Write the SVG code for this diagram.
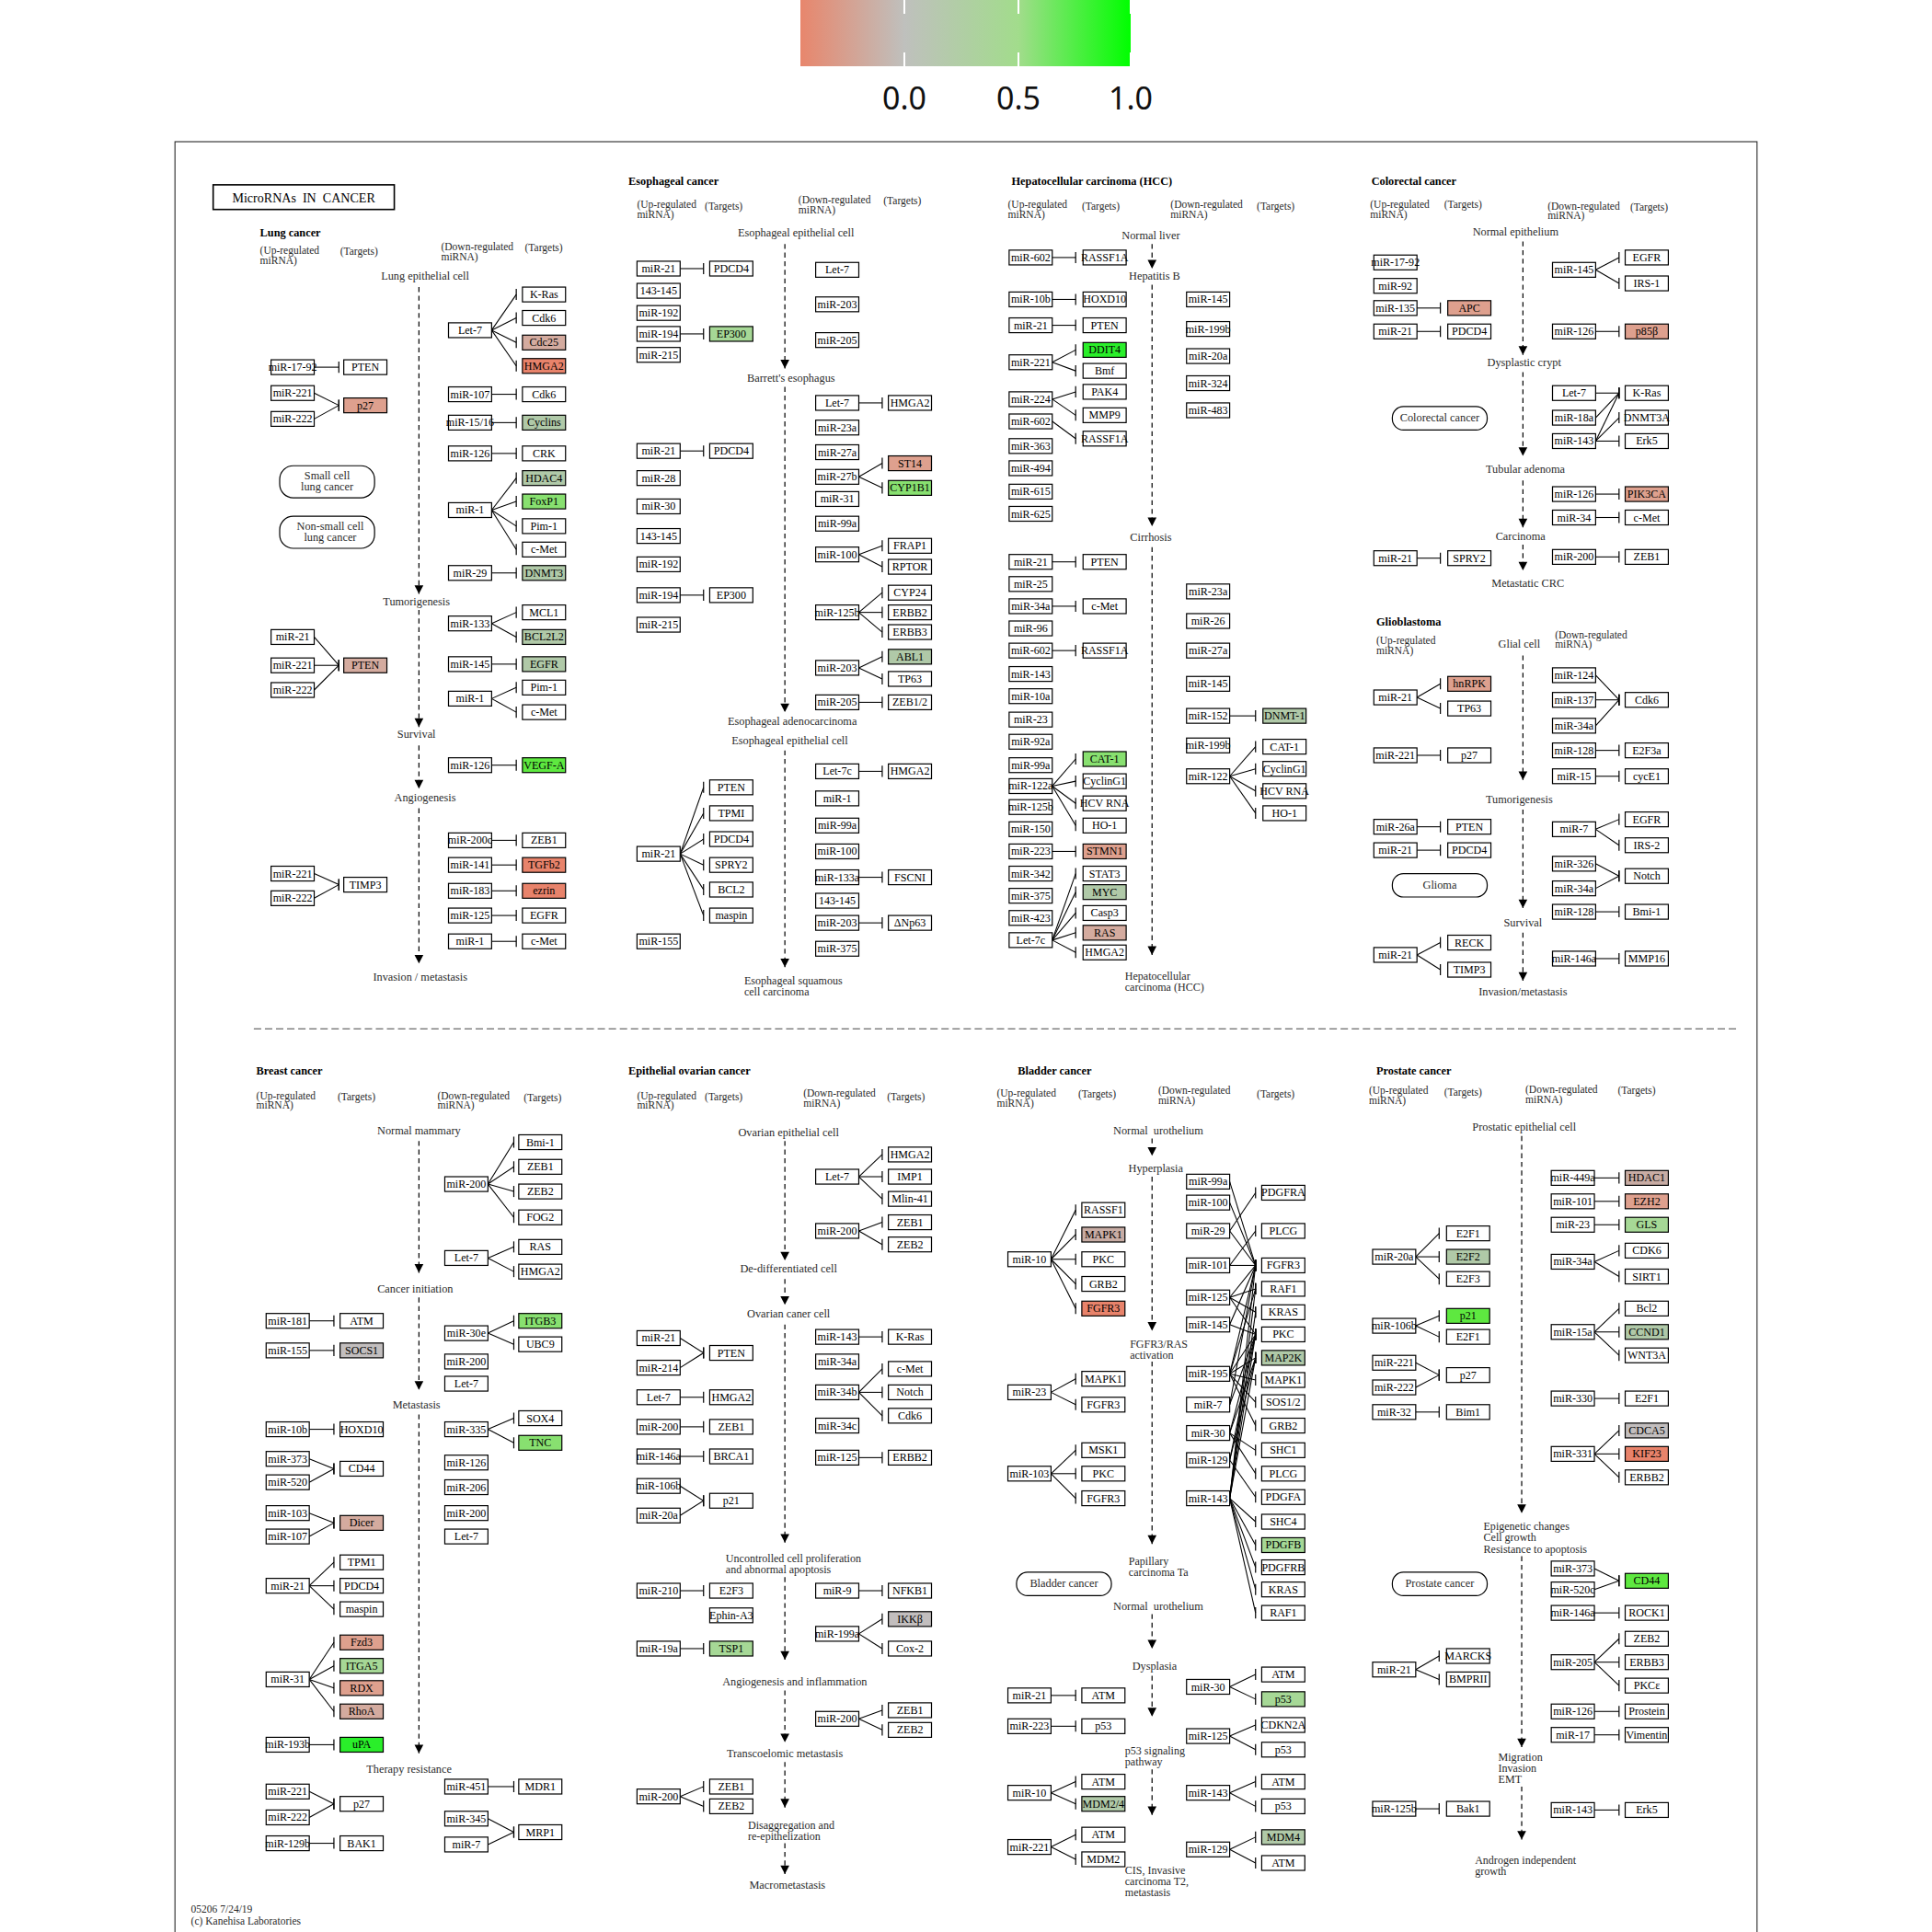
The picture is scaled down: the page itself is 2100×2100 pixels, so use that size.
<svg xmlns="http://www.w3.org/2000/svg" width="2100" height="2100" viewBox="0 0 2100 2100">
<style>
.n{fill:#fff;stroke:#000;stroke-width:.9px}
.sa{fill:#e8836b}.sb{fill:#dea08e}.sc{fill:#d4ab9f}.sd{fill:#b0c9a8}.se{fill:#a6d896}.sf{fill:#88e070}.sg{fill:#5ee840}.sh{fill:#2aee2a}.si{fill:#c2bebe}.sj{fill:#c8aca4}
.t{font-family:"Liberation Serif","Times New Roman",serif;font-size:9px;text-anchor:middle;fill:#000}
.l{font-family:"Liberation Serif","Times New Roman",serif;font-size:9.2px;text-anchor:middle;fill:#2a2a2a}
.ls{font-family:"Liberation Serif","Times New Roman",serif;font-size:9px;fill:#2a2a2a}
.h{font-family:"Liberation Serif","Times New Roman",serif;font-size:9.2px;font-weight:bold;fill:#000}
.u{font-family:"Liberation Serif","Times New Roman",serif;font-size:8.6px;fill:#2a2a2a}
.r{fill:#fff;stroke:#000;stroke-width:.9px}
.c path{fill:none;stroke:#000;stroke-width:.8px;marker-end:url(#tee)}
.s path{fill:none;stroke:#000;stroke-width:.9px;stroke-dasharray:4 3;marker-end:url(#arr)}
</style>
<defs>
<linearGradient id="cb" x1="0" x2="1" y1="0" y2="0">
<stop offset="0" stop-color="#e8866c"/><stop offset="0.315" stop-color="#bfc0bd"/><stop offset="0.66" stop-color="#a2dc8c"/><stop offset="1" stop-color="#00ff00"/>
</linearGradient>
<marker id="tee" markerUnits="userSpaceOnUse" viewBox="-2 -6 4 12" markerWidth="4" markerHeight="12" refX="0" refY="0" orient="0" overflow="visible"><path d="M0,-4.5V4.5" stroke="#000" stroke-width="0.9" fill="none"/></marker>
<marker id="arr" markerUnits="userSpaceOnUse" viewBox="-8 -5 9 10" markerWidth="9" markerHeight="10" refX="0" refY="0" orient="auto" overflow="visible"><path d="M0,0L-7,-3.6L-7,3.6Z" fill="#000"/></marker>
</defs>
<rect width="2100" height="2100" fill="#fff"/>
<g id="colorbar">
<rect x="870" y="0" width="359" height="72" fill="url(#cb)"/>
<path d="M983 0V15M983 57V72M1107 0V15M1107 57V72M1229 0V15M1229 57V72" stroke="#fff" stroke-width="2"/>
<g font-family="'Noto Sans','DejaVu Sans',sans-serif" font-size="34" text-anchor="middle" fill="#111">
<text x="983" y="119">0.0</text><text x="1107" y="119">0.5</text><text x="1229" y="119">1.0</text>
</g>
</g>
<g transform="scale(1.339286)">
<rect x="142" y="115" width="1284" height="1465" fill="none" stroke="#222" stroke-width="0.8"/>
<g id="title"><rect x="173" y="150" width="147" height="20" fill="#fff" stroke="#000" stroke-width="1.2"/><text class="t" x="246.5" y="164" style="font-size:10.5px;white-space:pre" xml:space="preserve">MicroRNAs  IN  CANCER</text></g>
<path d="M206 835H1410" stroke="#444" stroke-width="0.8" stroke-dasharray="6 3" fill="none"/>
<text class="u" x="155" y="1552">05206 7/24/19</text>
<text class="u" x="155" y="1562">(c) Kanehisa Laboratories</text>

<g id="labels">
<text class="h" x="211" y="192">Lung cancer</text>
<text class="u" x="211" y="206">(Up-regulated</text><text class="u" x="211" y="214">miRNA)</text><text class="u" x="276" y="207">(Targets)</text>
<text class="u" x="358" y="203">(Down-regulated</text><text class="u" x="358" y="211">miRNA)</text><text class="u" x="426" y="204">(Targets)</text>
<text class="l" x="345" y="227">Lung epithelial cell</text>
<text class="l" x="338" y="491">Tumorigenesis</text>
<text class="l" x="338" y="599">Survival</text>
<text class="l" x="345" y="650">Angiogenesis</text>
<text class="l" x="341" y="796">Invasion / metastasis</text>

<text class="h" x="510" y="150">Esophageal cancer</text>
<text class="u" x="517" y="169">(Up-regulated</text><text class="u" x="517" y="177">miRNA)</text><text class="u" x="572" y="170">(Targets)</text>
<text class="u" x="648" y="165">(Down-regulated</text><text class="u" x="648" y="173">miRNA)</text><text class="u" x="717" y="166">(Targets)</text>
<text class="l" x="646" y="192">Esophageal epithelial cell</text>
<text class="l" x="642" y="310">Barrett's esophagus</text>
<text class="l" x="643" y="588">Esophageal adenocarcinoma</text>
<text class="l" x="641" y="604">Esophageal epithelial cell</text>
<text class="ls" x="604" y="799">Esophageal squamous</text><text class="ls" x="604" y="808">cell carcinoma</text>

<text class="h" x="821" y="150">Hepatocellular carcinoma (HCC)</text>
<text class="u" x="818" y="169">(Up-regulated</text><text class="u" x="818" y="177">miRNA)</text><text class="u" x="878" y="170">(Targets)</text>
<text class="u" x="950" y="169">(Down-regulated</text><text class="u" x="950" y="177">miRNA)</text><text class="u" x="1020" y="170">(Targets)</text>
<text class="l" x="934" y="194">Normal liver</text>
<text class="l" x="937" y="227">Hepatitis B</text>
<text class="l" x="934" y="439">Cirrhosis</text>
<text class="ls" x="913" y="795">Hepatocellular</text><text class="ls" x="913" y="804">carcinoma (HCC)</text>

<text class="h" x="1113" y="150">Colorectal cancer</text>
<text class="u" x="1112" y="169">(Up-regulated</text><text class="u" x="1112" y="177">miRNA)</text><text class="u" x="1172" y="169">(Targets)</text>
<text class="u" x="1256" y="170">(Down-regulated</text><text class="u" x="1256" y="178">miRNA)</text><text class="u" x="1323" y="171">(Targets)</text>
<text class="l" x="1230" y="191">Normal epithelium</text>
<text class="l" x="1237" y="297">Dysplastic crypt</text>
<text class="l" x="1238" y="384">Tubular adenoma</text>
<text class="l" x="1234" y="438">Carcinoma</text>
<text class="l" x="1240" y="476">Metastatic CRC</text>

<text class="h" x="1117" y="508">Glioblastoma</text>
<text class="u" x="1117" y="523">(Up-regulated</text><text class="u" x="1117" y="531">miRNA)</text>
<text class="l" x="1233" y="526">Glial cell</text>
<text class="u" x="1262" y="518">(Down-regulated</text><text class="u" x="1262" y="526">miRNA)</text>
<text class="l" x="1233" y="652">Tumorigenesis</text>
<text class="l" x="1236" y="752">Survival</text>
<text class="l" x="1236" y="808">Invasion/metastasis</text>

<text class="h" x="208" y="872">Breast cancer</text>
<text class="u" x="208" y="892">(Up-regulated</text><text class="u" x="208" y="900">miRNA)</text><text class="u" x="274" y="893">(Targets)</text>
<text class="u" x="355" y="892">(Down-regulated</text><text class="u" x="355" y="900">miRNA)</text><text class="u" x="425" y="894">(Targets)</text>
<text class="l" x="340" y="921">Normal mammary</text>
<text class="l" x="337" y="1049">Cancer initiation</text>
<text class="l" x="338" y="1143">Metastasis</text>
<text class="l" x="332" y="1439">Therapy resistance</text>

<text class="h" x="510" y="872">Epithelial ovarian cancer</text>
<text class="u" x="517" y="892">(Up-regulated</text><text class="u" x="517" y="900">miRNA)</text><text class="u" x="572" y="893">(Targets)</text>
<text class="u" x="652" y="890">(Down-regulated</text><text class="u" x="652" y="898">miRNA)</text><text class="u" x="720" y="893">(Targets)</text>
<text class="l" x="640" y="922">Ovarian epithelial cell</text>
<text class="l" x="640" y="1033">De-differentiated cell</text>
<text class="l" x="640" y="1069">Ovarian caner cell</text>
<text class="ls" x="589" y="1268">Uncontrolled cell proliferation</text><text class="ls" x="589" y="1277">and abnormal apoptosis</text>
<text class="l" x="645" y="1368">Angiogenesis and inflammation</text>
<text class="l" x="637" y="1426">Transcoelomic metastasis</text>
<text class="ls" x="607" y="1484">Disaggregation and</text><text class="ls" x="607" y="1493">re-epithelization</text>
<text class="l" x="639" y="1533">Macrometastasis</text>

<text class="h" x="826" y="872">Bladder cancer</text>
<text class="u" x="809" y="890">(Up-regulated</text><text class="u" x="809" y="898">miRNA)</text><text class="u" x="875" y="891">(Targets)</text>
<text class="u" x="940" y="888">(Down-regulated</text><text class="u" x="940" y="896">miRNA)</text><text class="u" x="1020" y="891">(Targets)</text>
<text class="l" x="940" y="921" style="white-space:pre" xml:space="preserve">Normal  urothelium</text>
<text class="l" x="938" y="951">Hyperplasia</text>
<text class="ls" x="917" y="1094">FGFR3/RAS</text><text class="ls" x="917" y="1103">activation</text>
<text class="ls" x="916" y="1270">Papillary</text><text class="ls" x="916" y="1279">carcinoma Ta</text>
<text class="l" x="940" y="1307" style="white-space:pre" xml:space="preserve">Normal  urothelium</text>
<text class="l" x="937" y="1355">Dysplasia</text>
<text class="ls" x="913" y="1424">p53 signaling</text><text class="ls" x="913" y="1433">pathway</text>
<text class="ls" x="913" y="1521">CIS, Invasive</text><text class="ls" x="913" y="1530">carcinoma T2,</text><text class="ls" x="913" y="1539">metastasis</text>

<text class="h" x="1117" y="872">Prostate cancer</text>
<text class="u" x="1111" y="888">(Up-regulated</text><text class="u" x="1111" y="896">miRNA)</text><text class="u" x="1172" y="889">(Targets)</text>
<text class="u" x="1238" y="887">(Down-regulated</text><text class="u" x="1238" y="895">miRNA)</text><text class="u" x="1313" y="888">(Targets)</text>
<text class="l" x="1237" y="918">Prostatic epithelial cell</text>
<text class="ls" x="1204" y="1242">Epigenetic changes</text><text class="ls" x="1204" y="1251">Cell growth</text><text class="ls" x="1204" y="1260">Resistance to apoptosis</text>
<text class="ls" x="1216" y="1429">Migration</text><text class="ls" x="1216" y="1438">Invasion</text><text class="ls" x="1216" y="1447">EMT</text>
<text class="ls" x="1197" y="1513">Androgen independent</text><text class="ls" x="1197" y="1522">growth</text>
</g>

<g id="stages" class="s">
<path d="M340 233V482"/><path d="M340 495V590"/><path d="M340 605V640"/><path d="M340 656V782"/>
<path d="M637 198V299"/><path d="M637 314V578"/><path d="M637 609V785"/>
<path d="M935 198V218"/><path d="M935 231V427"/><path d="M935 444V775"/>
<path d="M1236 196V288"/><path d="M1236 302V370"/><path d="M1236 390V428"/><path d="M1236 442V463"/>
<path d="M1236 532V633"/><path d="M1236 657V737"/><path d="M1236 757V796"/>
<path d="M340 926V1033"/><path d="M340 1053V1128"/><path d="M340 1148V1423"/>
<path d="M637 926V1023"/><path d="M637 1038V1059"/><path d="M637 1075V1252"/><path d="M637 1280V1347"/><path d="M637 1372V1414"/><path d="M637 1430V1467"/><path d="M637 1496V1521"/>
<path d="M935 924V938"/><path d="M935 955V1080"/><path d="M935 1105V1253"/><path d="M935 1310V1338"/><path d="M935 1360V1393"/><path d="M935 1436V1473"/>
<path d="M1235 922V1228"/><path d="M1235 1263V1418"/><path d="M1235 1450V1493"/>
</g>

<g id="connectors" class="c">
<path d="M255 298H275"/><path d="M255 319L275 329"/><path d="M255 340L275 329"/><path d="M255 517L275 540"/><path d="M255 540H275"/><path d="M255 560L275 540"/><path d="M255 709L275 718"/><path d="M255 729L275 718"/>
<path d="M399 268L419 239"/><path d="M399 268L419 258"/><path d="M399 268L419 278"/><path d="M399 268L419 297"/><path d="M399 320H419"/><path d="M399 343H419"/><path d="M399 368H419"/>
<path d="M399 414L419 388"/><path d="M399 414L419 407"/><path d="M399 414L419 427"/><path d="M399 414L419 446"/><path d="M399 465H419"/><path d="M399 506L419 497"/><path d="M399 506L419 517"/><path d="M399 539H419"/><path d="M399 567L419 558"/><path d="M399 567L419 578"/><path d="M399 621H419"/><path d="M399 682H419"/><path d="M399 702H419"/><path d="M399 723H419"/><path d="M399 743H419"/><path d="M399 764H419"/>

<path d="M552 218H571"/><path d="M552 271H571"/><path d="M552 366H571"/><path d="M552 483H571"/><path d="M697 327H716"/><path d="M697 387L716 376"/><path d="M697 387L716 396"/><path d="M697 450L716 443"/><path d="M697 450L716 460"/><path d="M697 497L716 481"/><path d="M697 497H716"/><path d="M697 497L716 513"/><path d="M697 542L716 533"/><path d="M697 542L716 551"/><path d="M697 570H716"/>
<path d="M552 693L571 639"/><path d="M552 693L571 660"/><path d="M552 693L571 681"/><path d="M552 693L571 702"/><path d="M552 693L571 722"/><path d="M552 693L571 743"/><path d="M697 626H716"/><path d="M697 712H716"/><path d="M697 749H716"/>

<path d="M854 209H873"/><path d="M854 243H873"/><path d="M854 264H873"/><path d="M854 294L873 284"/><path d="M854 294L873 301"/><path d="M854 324L873 318"/><path d="M854 324L873 337"/><path d="M854 342L873 356"/><path d="M854 456H873"/><path d="M854 492H873"/><path d="M854 528H873"/>
<path d="M854 638L873 616"/><path d="M854 638L873 634"/><path d="M854 638L873 652"/><path d="M854 638L873 670"/><path d="M854 691H873"/><path d="M854 763L873 709"/><path d="M854 763L873 724"/><path d="M854 763L873 741"/><path d="M854 763L873 757"/><path d="M854 763L873 773"/>
<path d="M998 581H1019"/><path d="M998 630L1019 606"/><path d="M998 630L1019 624"/><path d="M998 630L1019 642"/><path d="M998 630L1019 660"/>

<path d="M1150 250H1169"/><path d="M1150 269H1169"/><path d="M1295 219L1314 209"/><path d="M1295 219L1314 230"/><path d="M1295 269H1314"/><path d="M1295 319H1314"/><path d="M1295 339L1314 319"/><path d="M1295 358L1314 319"/><path d="M1295 358L1314 339"/><path d="M1295 358H1314"/><path d="M1295 401H1314"/><path d="M1295 420H1314"/><path d="M1150 453H1169"/><path d="M1295 452H1314"/>

<path d="M1150 566L1169 555"/><path d="M1150 566L1169 575"/><path d="M1150 613H1169"/><path d="M1150 671H1169"/><path d="M1150 690H1169"/><path d="M1150 775L1169 765"/><path d="M1150 775L1169 787"/>
<path d="M1295 548L1314 568"/><path d="M1295 568H1314"/><path d="M1295 589L1314 568"/><path d="M1295 609H1314"/><path d="M1295 630H1314"/><path d="M1295 673L1314 665"/><path d="M1295 673L1314 686"/><path d="M1295 701L1314 711"/><path d="M1295 721L1314 711"/><path d="M1295 740H1314"/><path d="M1295 778H1314"/>

<path d="M396 961L417 927"/><path d="M396 961L417 947"/><path d="M396 961L417 967"/><path d="M396 961L417 988"/><path d="M396 1021L417 1012"/><path d="M396 1021L417 1032"/><path d="M251 1072H271"/><path d="M251 1096H271"/><path d="M396 1082L417 1072"/><path d="M396 1082L417 1091"/>
<path d="M251 1160H271"/><path d="M251 1184L271 1192"/><path d="M251 1203L271 1192"/><path d="M251 1228L271 1236"/><path d="M251 1247L271 1236"/><path d="M251 1287L271 1268"/><path d="M251 1287H271"/><path d="M251 1287L271 1306"/>
<path d="M251 1363L271 1333"/><path d="M251 1363L271 1352"/><path d="M251 1363L271 1370"/><path d="M251 1363L271 1389"/><path d="M251 1416H271"/><path d="M396 1160L417 1151"/><path d="M396 1160L417 1171"/>
<path d="M251 1454L271 1464"/><path d="M251 1475L271 1464"/><path d="M251 1496H271"/><path d="M396 1450H417"/><path d="M396 1476L417 1487"/><path d="M396 1497L417 1487"/>

<path d="M697 955L716 937"/><path d="M697 955H716"/><path d="M697 955L716 973"/><path d="M697 999L716 992"/><path d="M697 999L716 1010"/>
<path d="M552 1086L571 1098"/><path d="M552 1110L571 1098"/><path d="M552 1134H571"/><path d="M552 1158H571"/><path d="M552 1182H571"/><path d="M552 1206L571 1218"/><path d="M552 1230L571 1218"/>
<path d="M697 1085H716"/><path d="M697 1130L716 1111"/><path d="M697 1130H716"/><path d="M697 1130L716 1149"/><path d="M697 1183H716"/>
<path d="M552 1291H571"/><path d="M552 1338H571"/><path d="M697 1291H716"/><path d="M697 1326L716 1314"/><path d="M697 1326L716 1338"/><path d="M697 1395L716 1388"/><path d="M697 1395L716 1404"/><path d="M552 1458L571 1450"/><path d="M552 1458L571 1466"/>

<path d="M853 1022L873 982"/><path d="M853 1022L873 1002"/><path d="M853 1022H873"/><path d="M853 1022L873 1042"/><path d="M853 1022L873 1062"/><path d="M853 1130L873 1119"/><path d="M853 1130L873 1140"/><path d="M853 1196L873 1177"/><path d="M853 1196H873"/><path d="M853 1196L873 1216"/>
<path d="M998 959L1019 1027"/><path d="M998 976L1019 1027"/><path d="M998 999L1019 968"/><path d="M998 999L1019 1027"/><path d="M998 1027L1019 999"/><path d="M998 1027H1019"/>
<path d="M998 1053L1019 1027"/><path d="M998 1053L1019 1046"/><path d="M998 1053L1019 1065"/><path d="M998 1053L1019 1083"/><path d="M998 1075L1019 1027"/><path d="M998 1075L1019 1083"/>
<path d="M998 1115L1019 1027"/><path d="M998 1115L1019 1046"/><path d="M998 1115L1019 1083"/><path d="M998 1115L1019 1102"/><path d="M998 1115L1019 1120"/><path d="M998 1115L1019 1138"/><path d="M998 1115L1019 1157"/>
<path d="M998 1140L1019 1027"/><path d="M998 1140L1019 1083"/><path d="M998 1163L1019 1083"/><path d="M998 1163L1019 1102"/><path d="M998 1163L1019 1177"/><path d="M998 1163L1019 1196"/>
<path d="M998 1185L1019 1083"/><path d="M998 1185L1019 1102"/><path d="M998 1185L1019 1215"/>
<path d="M998 1216L1019 1027"/><path d="M998 1216L1019 1046"/><path d="M998 1216L1019 1065"/><path d="M998 1216L1019 1083"/><path d="M998 1216L1019 1102"/><path d="M998 1216L1019 1235"/><path d="M998 1216L1019 1254"/><path d="M998 1216L1019 1272"/><path d="M998 1216L1019 1290"/><path d="M998 1216L1019 1309"/>
<path d="M853 1376H873"/><path d="M853 1401H873"/><path d="M853 1455L873 1446"/><path d="M853 1455L873 1464"/><path d="M853 1499L873 1489"/><path d="M853 1499L873 1509"/>
<path d="M998 1369L1019 1359"/><path d="M998 1369L1019 1379"/><path d="M998 1409L1019 1400"/><path d="M998 1409L1019 1420"/><path d="M998 1455L1019 1446"/><path d="M998 1455L1019 1466"/><path d="M998 1501L1019 1491"/><path d="M998 1501L1019 1512"/>

<path d="M1294 956H1314"/><path d="M1294 975H1314"/><path d="M1294 994H1314"/><path d="M1294 1024L1314 1015"/><path d="M1294 1024L1314 1036"/><path d="M1294 1081L1314 1062"/><path d="M1294 1081H1314"/><path d="M1294 1081L1314 1100"/><path d="M1294 1135H1314"/><path d="M1294 1180L1314 1161"/><path d="M1294 1180H1314"/><path d="M1294 1180L1314 1199"/>
<path d="M1149 1020L1168 1001"/><path d="M1149 1020H1168"/><path d="M1149 1020L1168 1038"/><path d="M1149 1076L1168 1068"/><path d="M1149 1076L1168 1085"/><path d="M1149 1106L1168 1116"/><path d="M1149 1126L1168 1116"/><path d="M1149 1146H1168"/>
<path d="M1294 1273L1314 1283"/><path d="M1294 1290L1314 1283"/><path d="M1294 1309H1314"/><path d="M1294 1349L1314 1330"/><path d="M1294 1349H1314"/><path d="M1294 1349L1314 1368"/><path d="M1294 1389H1314"/><path d="M1294 1408H1314"/><path d="M1294 1469H1314"/>
<path d="M1149 1355L1168 1344"/><path d="M1149 1355L1168 1363"/><path d="M1149 1468H1168"/>
</g>

<g id="nodes">
<g id="lu1"><rect class="n" x="220" y="292" width="35" height="12"/><text class="t" x="237.5" y="301">miR-17-92</text></g>
<g id="lu2"><rect class="n" x="279" y="292" width="35" height="12"/><text class="t" x="296.5" y="301">PTEN</text></g>
<g id="lu3"><rect class="n" x="220" y="313" width="35" height="12"/><text class="t" x="237.5" y="322">miR-221</text></g>
<g id="lu4"><rect class="n" x="220" y="334" width="35" height="12"/><text class="t" x="237.5" y="343">miR-222</text></g>
<g id="lu5"><rect class="n sb" x="279" y="323" width="35" height="12"/><text class="t" x="296.5" y="332">p27</text></g>
<g id="lu6"><rect class="n" x="220" y="511" width="35" height="12"/><text class="t" x="237.5" y="520">miR-21</text></g>
<g id="lu7"><rect class="n" x="220" y="534" width="35" height="12"/><text class="t" x="237.5" y="543">miR-221</text></g>
<g id="lu8"><rect class="n" x="220" y="554" width="35" height="12"/><text class="t" x="237.5" y="563">miR-222</text></g>
<g id="lu9"><rect class="n sc" x="279" y="534" width="35" height="12"/><text class="t" x="296.5" y="543">PTEN</text></g>
<g id="lu10"><rect class="n" x="220" y="703" width="35" height="12"/><text class="t" x="237.5" y="712">miR-221</text></g>
<g id="lu11"><rect class="n" x="220" y="723" width="35" height="12"/><text class="t" x="237.5" y="732">miR-222</text></g>
<g id="lu12"><rect class="n" x="279" y="712" width="35" height="12"/><text class="t" x="296.5" y="721">TIMP3</text></g>
<g id="lu-sclc"><rect class="r" x="227" y="378" width="77" height="26" rx="11"/><text class="l" x="265.5" y="389">Small cell</text><text class="l" x="265.5" y="398">lung cancer</text></g>
<g id="lu-nsclc"><rect class="r" x="227" y="419" width="77" height="26" rx="11"/><text class="l" x="268" y="430">Non-small cell</text><text class="l" x="268" y="439">lung cancer</text></g>
<g id="lu13"><rect class="n" x="364" y="262" width="35" height="12"/><text class="t" x="381.5" y="271">Let-7</text></g>
<g id="lu14"><rect class="n" x="424" y="233" width="35" height="12"/><text class="t" x="441.5" y="242">K-Ras</text></g>
<g id="lu15"><rect class="n" x="424" y="252" width="35" height="12"/><text class="t" x="441.5" y="261">Cdk6</text></g>
<g id="lu16"><rect class="n sc" x="424" y="272" width="35" height="12"/><text class="t" x="441.5" y="281">Cdc25</text></g>
<g id="lu17"><rect class="n sa" x="424" y="291" width="35" height="12"/><text class="t" x="441.5" y="300">HMGA2</text></g>
<g id="lu18"><rect class="n" x="364" y="314" width="35" height="12"/><text class="t" x="381.5" y="323">miR-107</text></g>
<g id="lu19"><rect class="n" x="424" y="314" width="35" height="12"/><text class="t" x="441.5" y="323">Cdk6</text></g>
<g id="lu20"><rect class="n" x="364" y="337" width="35" height="12"/><text class="t" x="381.5" y="346">miR-15/16</text></g>
<g id="lu21"><rect class="n sd" x="424" y="337" width="35" height="12"/><text class="t" x="441.5" y="346">Cyclins</text></g>
<g id="lu22"><rect class="n" x="364" y="362" width="35" height="12"/><text class="t" x="381.5" y="371">miR-126</text></g>
<g id="lu23"><rect class="n" x="424" y="362" width="35" height="12"/><text class="t" x="441.5" y="371">CRK</text></g>
<g id="lu24"><rect class="n" x="364" y="408" width="35" height="12"/><text class="t" x="381.5" y="417">miR-1</text></g>
<g id="lu25"><rect class="n sd" x="424" y="382" width="35" height="12"/><text class="t" x="441.5" y="391">HDAC4</text></g>
<g id="lu26"><rect class="n sf" x="424" y="401" width="35" height="12"/><text class="t" x="441.5" y="410">FoxP1</text></g>
<g id="lu27"><rect class="n" x="424" y="421" width="35" height="12"/><text class="t" x="441.5" y="430">Pim-1</text></g>
<g id="lu28"><rect class="n" x="424" y="440" width="35" height="12"/><text class="t" x="441.5" y="449">c-Met</text></g>
<g id="lu29"><rect class="n" x="364" y="459" width="35" height="12"/><text class="t" x="381.5" y="468">miR-29</text></g>
<g id="lu30"><rect class="n sd" x="424" y="459" width="35" height="12"/><text class="t" x="441.5" y="468">DNMT3</text></g>
<g id="lu31"><rect class="n" x="364" y="500" width="35" height="12"/><text class="t" x="381.5" y="509">miR-133</text></g>
<g id="lu32"><rect class="n" x="424" y="491" width="35" height="12"/><text class="t" x="441.5" y="500">MCL1</text></g>
<g id="lu33"><rect class="n sd" x="424" y="511" width="35" height="12"/><text class="t" x="441.5" y="520">BCL2L2</text></g>
<g id="lu34"><rect class="n" x="364" y="533" width="35" height="12"/><text class="t" x="381.5" y="542">miR-145</text></g>
<g id="lu35"><rect class="n sd" x="424" y="533" width="35" height="12"/><text class="t" x="441.5" y="542">EGFR</text></g>
<g id="lu36"><rect class="n" x="364" y="561" width="35" height="12"/><text class="t" x="381.5" y="570">miR-1</text></g>
<g id="lu37"><rect class="n" x="424" y="552" width="35" height="12"/><text class="t" x="441.5" y="561">Pim-1</text></g>
<g id="lu38"><rect class="n" x="424" y="572" width="35" height="12"/><text class="t" x="441.5" y="581">c-Met</text></g>
<g id="lu39"><rect class="n" x="364" y="615" width="35" height="12"/><text class="t" x="381.5" y="624">miR-126</text></g>
<g id="lu40"><rect class="n sg" x="424" y="615" width="35" height="12"/><text class="t" x="441.5" y="624">VEGF-A</text></g>
<g id="lu41"><rect class="n" x="364" y="676" width="35" height="12"/><text class="t" x="381.5" y="685">miR-200c</text></g>
<g id="lu42"><rect class="n" x="424" y="676" width="35" height="12"/><text class="t" x="441.5" y="685">ZEB1</text></g>
<g id="lu43"><rect class="n" x="364" y="696" width="35" height="12"/><text class="t" x="381.5" y="705">miR-141</text></g>
<g id="lu44"><rect class="n sa" x="424" y="696" width="35" height="12"/><text class="t" x="441.5" y="705">TGFb2</text></g>
<g id="lu45"><rect class="n" x="364" y="717" width="35" height="12"/><text class="t" x="381.5" y="726">miR-183</text></g>
<g id="lu46"><rect class="n sa" x="424" y="717" width="35" height="12"/><text class="t" x="441.5" y="726">ezrin</text></g>
<g id="lu47"><rect class="n" x="364" y="737" width="35" height="12"/><text class="t" x="381.5" y="746">miR-125</text></g>
<g id="lu48"><rect class="n" x="424" y="737" width="35" height="12"/><text class="t" x="441.5" y="746">EGFR</text></g>
<g id="lu49"><rect class="n" x="364" y="758" width="35" height="12"/><text class="t" x="381.5" y="767">miR-1</text></g>
<g id="lu50"><rect class="n" x="424" y="758" width="35" height="12"/><text class="t" x="441.5" y="767">c-Met</text></g>

<g id="es1"><rect class="n" x="517" y="212" width="35" height="12"/><text class="t" x="534.5" y="221">miR-21</text></g>
<g id="es2"><rect class="n" x="576" y="212" width="35" height="12"/><text class="t" x="593.5" y="221">PDCD4</text></g>
<g id="es3"><rect class="n" x="517" y="230" width="35" height="12"/><text class="t" x="534.5" y="239">143-145</text></g>
<g id="es4"><rect class="n" x="517" y="248" width="35" height="12"/><text class="t" x="534.5" y="257">miR-192</text></g>
<g id="es5"><rect class="n" x="517" y="265" width="35" height="12"/><text class="t" x="534.5" y="274">miR-194</text></g>
<g id="es6"><rect class="n se" x="576" y="265" width="35" height="12"/><text class="t" x="593.5" y="274">EP300</text></g>
<g id="es7"><rect class="n" x="517" y="282" width="35" height="12"/><text class="t" x="534.5" y="291">miR-215</text></g>
<g id="es8"><rect class="n" x="662" y="213" width="35" height="12"/><text class="t" x="679.5" y="222">Let-7</text></g>
<g id="es9"><rect class="n" x="662" y="241" width="35" height="12"/><text class="t" x="679.5" y="250">miR-203</text></g>
<g id="es10"><rect class="n" x="662" y="270" width="35" height="12"/><text class="t" x="679.5" y="279">miR-205</text></g>
<g id="es11"><rect class="n" x="517" y="360" width="35" height="12"/><text class="t" x="534.5" y="369">miR-21</text></g>
<g id="es12"><rect class="n" x="576" y="360" width="35" height="12"/><text class="t" x="593.5" y="369">PDCD4</text></g>
<g id="es13"><rect class="n" x="517" y="382" width="35" height="12"/><text class="t" x="534.5" y="391">miR-28</text></g>
<g id="es14"><rect class="n" x="517" y="405" width="35" height="12"/><text class="t" x="534.5" y="414">miR-30</text></g>
<g id="es15"><rect class="n" x="517" y="429" width="35" height="12"/><text class="t" x="534.5" y="438">143-145</text></g>
<g id="es16"><rect class="n" x="517" y="452" width="35" height="12"/><text class="t" x="534.5" y="461">miR-192</text></g>
<g id="es17"><rect class="n" x="517" y="477" width="35" height="12"/><text class="t" x="534.5" y="486">miR-194</text></g>
<g id="es18"><rect class="n" x="576" y="477" width="35" height="12"/><text class="t" x="593.5" y="486">EP300</text></g>
<g id="es19"><rect class="n" x="517" y="501" width="35" height="12"/><text class="t" x="534.5" y="510">miR-215</text></g>
<g id="es20"><rect class="n" x="662" y="321" width="35" height="12"/><text class="t" x="679.5" y="330">Let-7</text></g>
<g id="es21"><rect class="n" x="721" y="321" width="35" height="12"/><text class="t" x="738.5" y="330">HMGA2</text></g>
<g id="es22"><rect class="n" x="662" y="341" width="35" height="12"/><text class="t" x="679.5" y="350">miR-23a</text></g>
<g id="es23"><rect class="n" x="662" y="361" width="35" height="12"/><text class="t" x="679.5" y="370">miR-27a</text></g>
<g id="es24"><rect class="n" x="662" y="381" width="35" height="12"/><text class="t" x="679.5" y="390">miR-27b</text></g>
<g id="es25"><rect class="n sb" x="721" y="370" width="35" height="12"/><text class="t" x="738.5" y="379">ST14</text></g>
<g id="es26"><rect class="n sf" x="721" y="390" width="35" height="12"/><text class="t" x="738.5" y="399">CYP1B1</text></g>
<g id="es27"><rect class="n" x="662" y="399" width="35" height="12"/><text class="t" x="679.5" y="408">miR-31</text></g>
<g id="es28"><rect class="n" x="662" y="419" width="35" height="12"/><text class="t" x="679.5" y="428">miR-99a</text></g>
<g id="es29"><rect class="n" x="662" y="444" width="35" height="12"/><text class="t" x="679.5" y="453">miR-100</text></g>
<g id="es30"><rect class="n" x="721" y="437" width="35" height="12"/><text class="t" x="738.5" y="446">FRAP1</text></g>
<g id="es31"><rect class="n" x="721" y="454" width="35" height="12"/><text class="t" x="738.5" y="463">RPTOR</text></g>
<g id="es32"><rect class="n" x="662" y="491" width="35" height="12"/><text class="t" x="679.5" y="500">miR-125b</text></g>
<g id="es33"><rect class="n" x="721" y="475" width="35" height="12"/><text class="t" x="738.5" y="484">CYP24</text></g>
<g id="es34"><rect class="n" x="721" y="491" width="35" height="12"/><text class="t" x="738.5" y="500">ERBB2</text></g>
<g id="es35"><rect class="n" x="721" y="507" width="35" height="12"/><text class="t" x="738.5" y="516">ERBB3</text></g>
<g id="es36"><rect class="n" x="662" y="536" width="35" height="12"/><text class="t" x="679.5" y="545">miR-203</text></g>
<g id="es37"><rect class="n sd" x="721" y="527" width="35" height="12"/><text class="t" x="738.5" y="536">ABL1</text></g>
<g id="es38"><rect class="n" x="721" y="545" width="35" height="12"/><text class="t" x="738.5" y="554">TP63</text></g>
<g id="es39"><rect class="n" x="662" y="564" width="35" height="12"/><text class="t" x="679.5" y="573">miR-205</text></g>
<g id="es40"><rect class="n" x="721" y="564" width="35" height="12"/><text class="t" x="738.5" y="573">ZEB1/2</text></g>
<g id="es41"><rect class="n" x="517" y="687" width="35" height="12"/><text class="t" x="534.5" y="696">miR-21</text></g>
<g id="es42"><rect class="n" x="576" y="633" width="35" height="12"/><text class="t" x="593.5" y="642">PTEN</text></g>
<g id="es43"><rect class="n" x="576" y="654" width="35" height="12"/><text class="t" x="593.5" y="663">TPMI</text></g>
<g id="es44"><rect class="n" x="576" y="675" width="35" height="12"/><text class="t" x="593.5" y="684">PDCD4</text></g>
<g id="es45"><rect class="n" x="576" y="696" width="35" height="12"/><text class="t" x="593.5" y="705">SPRY2</text></g>
<g id="es46"><rect class="n" x="576" y="716" width="35" height="12"/><text class="t" x="593.5" y="725">BCL2</text></g>
<g id="es47"><rect class="n" x="576" y="737" width="35" height="12"/><text class="t" x="593.5" y="746">maspin</text></g>
<g id="es48"><rect class="n" x="517" y="758" width="35" height="12"/><text class="t" x="534.5" y="767">miR-155</text></g>
<g id="es49"><rect class="n" x="662" y="620" width="35" height="12"/><text class="t" x="679.5" y="629">Let-7c</text></g>
<g id="es50"><rect class="n" x="721" y="620" width="35" height="12"/><text class="t" x="738.5" y="629">HMGA2</text></g>
<g id="es51"><rect class="n" x="662" y="642" width="35" height="12"/><text class="t" x="679.5" y="651">miR-1</text></g>
<g id="es52"><rect class="n" x="662" y="664" width="35" height="12"/><text class="t" x="679.5" y="673">miR-99a</text></g>
<g id="es53"><rect class="n" x="662" y="685" width="35" height="12"/><text class="t" x="679.5" y="694">miR-100</text></g>
<g id="es54"><rect class="n" x="662" y="706" width="35" height="12"/><text class="t" x="679.5" y="715">miR-133a</text></g>
<g id="es55"><rect class="n" x="721" y="706" width="35" height="12"/><text class="t" x="738.5" y="715">FSCNI</text></g>
<g id="es56"><rect class="n" x="662" y="725" width="35" height="12"/><text class="t" x="679.5" y="734">143-145</text></g>
<g id="es57"><rect class="n" x="662" y="743" width="35" height="12"/><text class="t" x="679.5" y="752">miR-203</text></g>
<g id="es58"><rect class="n" x="721" y="743" width="35" height="12"/><text class="t" x="738.5" y="752">ΔNp63</text></g>
<g id="es59"><rect class="n" x="662" y="764" width="35" height="12"/><text class="t" x="679.5" y="773">miR-375</text></g>

<g id="hc1"><rect class="n" x="819" y="203" width="35" height="12"/><text class="t" x="836.5" y="212">miR-602</text></g>
<g id="hc2"><rect class="n" x="879" y="203" width="35" height="12"/><text class="t" x="896.5" y="212">RASSF1A</text></g>
<g id="hc3"><rect class="n" x="819" y="237" width="35" height="12"/><text class="t" x="836.5" y="246">miR-10b</text></g>
<g id="hc4"><rect class="n" x="879" y="237" width="35" height="12"/><text class="t" x="896.5" y="246">HOXD10</text></g>
<g id="hc5"><rect class="n" x="819" y="258" width="35" height="12"/><text class="t" x="836.5" y="267">miR-21</text></g>
<g id="hc6"><rect class="n" x="879" y="258" width="35" height="12"/><text class="t" x="896.5" y="267">PTEN</text></g>
<g id="hc7"><rect class="n" x="819" y="288" width="35" height="12"/><text class="t" x="836.5" y="297">miR-221</text></g>
<g id="hc8"><rect class="n sh" x="879" y="278" width="35" height="12"/><text class="t" x="896.5" y="287">DDIT4</text></g>
<g id="hc9"><rect class="n" x="879" y="295" width="35" height="12"/><text class="t" x="896.5" y="304">Bmf</text></g>
<g id="hc10"><rect class="n" x="819" y="318" width="35" height="12"/><text class="t" x="836.5" y="327">miR-224</text></g>
<g id="hc11"><rect class="n" x="879" y="312" width="35" height="12"/><text class="t" x="896.5" y="321">PAK4</text></g>
<g id="hc12"><rect class="n" x="879" y="331" width="35" height="12"/><text class="t" x="896.5" y="340">MMP9</text></g>
<g id="hc13"><rect class="n" x="819" y="336" width="35" height="12"/><text class="t" x="836.5" y="345">miR-602</text></g>
<g id="hc14"><rect class="n" x="879" y="350" width="35" height="12"/><text class="t" x="896.5" y="359">RASSF1A</text></g>
<g id="hc15"><rect class="n" x="819" y="356" width="35" height="12"/><text class="t" x="836.5" y="365">miR-363</text></g>
<g id="hc16"><rect class="n" x="819" y="374" width="35" height="12"/><text class="t" x="836.5" y="383">miR-494</text></g>
<g id="hc17"><rect class="n" x="819" y="393" width="35" height="12"/><text class="t" x="836.5" y="402">miR-615</text></g>
<g id="hc18"><rect class="n" x="819" y="411" width="35" height="12"/><text class="t" x="836.5" y="420">miR-625</text></g>
<g id="hc19"><rect class="n" x="963" y="237" width="35" height="12"/><text class="t" x="980.5" y="246">miR-145</text></g>
<g id="hc20"><rect class="n" x="963" y="261" width="35" height="12"/><text class="t" x="980.5" y="270">miR-199b</text></g>
<g id="hc21"><rect class="n" x="963" y="283" width="35" height="12"/><text class="t" x="980.5" y="292">miR-20a</text></g>
<g id="hc22"><rect class="n" x="963" y="305" width="35" height="12"/><text class="t" x="980.5" y="314">miR-324</text></g>
<g id="hc23"><rect class="n" x="963" y="327" width="35" height="12"/><text class="t" x="980.5" y="336">miR-483</text></g>
<g id="hc24"><rect class="n" x="819" y="450" width="35" height="12"/><text class="t" x="836.5" y="459">miR-21</text></g>
<g id="hc25"><rect class="n" x="879" y="450" width="35" height="12"/><text class="t" x="896.5" y="459">PTEN</text></g>
<g id="hc26"><rect class="n" x="819" y="468" width="35" height="12"/><text class="t" x="836.5" y="477">miR-25</text></g>
<g id="hc27"><rect class="n" x="819" y="486" width="35" height="12"/><text class="t" x="836.5" y="495">miR-34a</text></g>
<g id="hc28"><rect class="n" x="879" y="486" width="35" height="12"/><text class="t" x="896.5" y="495">c-Met</text></g>
<g id="hc29"><rect class="n" x="819" y="504" width="35" height="12"/><text class="t" x="836.5" y="513">miR-96</text></g>
<g id="hc30"><rect class="n" x="819" y="522" width="35" height="12"/><text class="t" x="836.5" y="531">miR-602</text></g>
<g id="hc31"><rect class="n" x="879" y="522" width="35" height="12"/><text class="t" x="896.5" y="531">RASSF1A</text></g>
<g id="hc32"><rect class="n" x="819" y="541" width="35" height="12"/><text class="t" x="836.5" y="550">miR-143</text></g>
<g id="hc33"><rect class="n" x="819" y="559" width="35" height="12"/><text class="t" x="836.5" y="568">miR-10a</text></g>
<g id="hc34"><rect class="n" x="819" y="578" width="35" height="12"/><text class="t" x="836.5" y="587">miR-23</text></g>
<g id="hc35"><rect class="n" x="819" y="596" width="35" height="12"/><text class="t" x="836.5" y="605">miR-92a</text></g>
<g id="hc36"><rect class="n" x="819" y="615" width="35" height="12"/><text class="t" x="836.5" y="624">miR-99a</text></g>
<g id="hc37"><rect class="n" x="819" y="632" width="35" height="12"/><text class="t" x="836.5" y="641">miR-122a</text></g>
<g id="hc38"><rect class="n sf" x="879" y="610" width="35" height="12"/><text class="t" x="896.5" y="619">CAT-1</text></g>
<g id="hc39"><rect class="n" x="879" y="628" width="35" height="12"/><text class="t" x="896.5" y="637">CyclinG1</text></g>
<g id="hc40"><rect class="n" x="879" y="646" width="35" height="12"/><text class="t" x="896.5" y="655">HCV RNA</text></g>
<g id="hc41"><rect class="n" x="879" y="664" width="35" height="12"/><text class="t" x="896.5" y="673">HO-1</text></g>
<g id="hc42"><rect class="n" x="819" y="649" width="35" height="12"/><text class="t" x="836.5" y="658">miR-125b</text></g>
<g id="hc43"><rect class="n" x="819" y="667" width="35" height="12"/><text class="t" x="836.5" y="676">miR-150</text></g>
<g id="hc44"><rect class="n" x="819" y="685" width="35" height="12"/><text class="t" x="836.5" y="694">miR-223</text></g>
<g id="hc45"><rect class="n sb" x="879" y="685" width="35" height="12"/><text class="t" x="896.5" y="694">STMN1</text></g>
<g id="hc46"><rect class="n" x="819" y="703" width="35" height="12"/><text class="t" x="836.5" y="712">miR-342</text></g>
<g id="hc47"><rect class="n" x="819" y="721" width="35" height="12"/><text class="t" x="836.5" y="730">miR-375</text></g>
<g id="hc48"><rect class="n" x="819" y="739" width="35" height="12"/><text class="t" x="836.5" y="748">miR-423</text></g>
<g id="hc49"><rect class="n" x="819" y="757" width="35" height="12"/><text class="t" x="836.5" y="766">Let-7c</text></g>
<g id="hc50"><rect class="n" x="879" y="703" width="35" height="12"/><text class="t" x="896.5" y="712">STAT3</text></g>
<g id="hc51"><rect class="n sd" x="879" y="718" width="35" height="12"/><text class="t" x="896.5" y="727">MYC</text></g>
<g id="hc52"><rect class="n" x="879" y="735" width="35" height="12"/><text class="t" x="896.5" y="744">Casp3</text></g>
<g id="hc53"><rect class="n sc" x="879" y="751" width="35" height="12"/><text class="t" x="896.5" y="760">RAS</text></g>
<g id="hc54"><rect class="n" x="879" y="767" width="35" height="12"/><text class="t" x="896.5" y="776">HMGA2</text></g>
<g id="hc55"><rect class="n" x="963" y="474" width="35" height="12"/><text class="t" x="980.5" y="483">miR-23a</text></g>
<g id="hc56"><rect class="n" x="963" y="498" width="35" height="12"/><text class="t" x="980.5" y="507">miR-26</text></g>
<g id="hc57"><rect class="n" x="963" y="522" width="35" height="12"/><text class="t" x="980.5" y="531">miR-27a</text></g>
<g id="hc58"><rect class="n" x="963" y="549" width="35" height="12"/><text class="t" x="980.5" y="558">miR-145</text></g>
<g id="hc59"><rect class="n" x="963" y="575" width="35" height="12"/><text class="t" x="980.5" y="584">miR-152</text></g>
<g id="hc60"><rect class="n sd" x="1025" y="575" width="35" height="12"/><text class="t" x="1042.5" y="584">DNMT-1</text></g>
<g id="hc61"><rect class="n" x="963" y="599" width="35" height="12"/><text class="t" x="980.5" y="608">miR-199b</text></g>
<g id="hc62"><rect class="n" x="963" y="624" width="35" height="12"/><text class="t" x="980.5" y="633">miR-122</text></g>
<g id="hc63"><rect class="n" x="1025" y="600" width="35" height="12"/><text class="t" x="1042.5" y="609">CAT-1</text></g>
<g id="hc64"><rect class="n" x="1025" y="618" width="35" height="12"/><text class="t" x="1042.5" y="627">CyclinG1</text></g>
<g id="hc65"><rect class="n" x="1025" y="636" width="35" height="12"/><text class="t" x="1042.5" y="645">HCV RNA</text></g>
<g id="hc66"><rect class="n" x="1025" y="654" width="35" height="12"/><text class="t" x="1042.5" y="663">HO-1</text></g>

<g id="co1"><rect class="n" x="1115" y="207" width="35" height="12"/><text class="t" x="1132.5" y="216">miR-17-92</text></g>
<g id="co2"><rect class="n" x="1115" y="226" width="35" height="12"/><text class="t" x="1132.5" y="235">miR-92</text></g>
<g id="co3"><rect class="n" x="1115" y="244" width="35" height="12"/><text class="t" x="1132.5" y="253">miR-135</text></g>
<g id="co4"><rect class="n sb" x="1175" y="244" width="35" height="12"/><text class="t" x="1192.5" y="253">APC</text></g>
<g id="co5"><rect class="n" x="1115" y="263" width="35" height="12"/><text class="t" x="1132.5" y="272">miR-21</text></g>
<g id="co6"><rect class="n" x="1175" y="263" width="35" height="12"/><text class="t" x="1192.5" y="272">PDCD4</text></g>
<g id="co7"><rect class="n" x="1260" y="213" width="35" height="12"/><text class="t" x="1277.5" y="222">miR-145</text></g>
<g id="co8"><rect class="n" x="1319" y="203" width="35" height="12"/><text class="t" x="1336.5" y="212">EGFR</text></g>
<g id="co9"><rect class="n" x="1319" y="224" width="35" height="12"/><text class="t" x="1336.5" y="233">IRS-1</text></g>
<g id="co10"><rect class="n" x="1260" y="263" width="35" height="12"/><text class="t" x="1277.5" y="272">miR-126</text></g>
<g id="co11"><rect class="n sb" x="1319" y="263" width="35" height="12"/><text class="t" x="1336.5" y="272">p85β</text></g>
<g id="co12"><rect class="n" x="1260" y="313" width="35" height="12"/><text class="t" x="1277.5" y="322">Let-7</text></g>
<g id="co13"><rect class="n" x="1260" y="333" width="35" height="12"/><text class="t" x="1277.5" y="342">miR-18a</text></g>
<g id="co14"><rect class="n" x="1260" y="352" width="35" height="12"/><text class="t" x="1277.5" y="361">miR-143</text></g>
<g id="co15"><rect class="n" x="1319" y="313" width="35" height="12"/><text class="t" x="1336.5" y="322">K-Ras</text></g>
<g id="co16"><rect class="n" x="1319" y="333" width="35" height="12"/><text class="t" x="1336.5" y="342">DNMT3A</text></g>
<g id="co17"><rect class="n" x="1319" y="352" width="35" height="12"/><text class="t" x="1336.5" y="361">Erk5</text></g>
<g id="co-crc"><rect class="r" x="1130" y="330" width="77" height="19" rx="9"/><text class="l" x="1168.5" y="342">Colorectal cancer</text></g>
<g id="co18"><rect class="n" x="1260" y="395" width="35" height="12"/><text class="t" x="1277.5" y="404">miR-126</text></g>
<g id="co19"><rect class="n sb" x="1319" y="395" width="35" height="12"/><text class="t" x="1336.5" y="404">PIK3CA</text></g>
<g id="co20"><rect class="n" x="1260" y="414" width="35" height="12"/><text class="t" x="1277.5" y="423">miR-34</text></g>
<g id="co21"><rect class="n" x="1319" y="414" width="35" height="12"/><text class="t" x="1336.5" y="423">c-Met</text></g>
<g id="co22"><rect class="n" x="1115" y="447" width="35" height="12"/><text class="t" x="1132.5" y="456">miR-21</text></g>
<g id="co23"><rect class="n" x="1175" y="447" width="35" height="12"/><text class="t" x="1192.5" y="456">SPRY2</text></g>
<g id="co24"><rect class="n" x="1260" y="446" width="35" height="12"/><text class="t" x="1277.5" y="455">miR-200</text></g>
<g id="co25"><rect class="n" x="1319" y="446" width="35" height="12"/><text class="t" x="1336.5" y="455">ZEB1</text></g>

<g id="gl1"><rect class="n" x="1115" y="560" width="35" height="12"/><text class="t" x="1132.5" y="569">miR-21</text></g>
<g id="gl2"><rect class="n sb" x="1175" y="549" width="35" height="12"/><text class="t" x="1192.5" y="558">hnRPK</text></g>
<g id="gl3"><rect class="n" x="1175" y="569" width="35" height="12"/><text class="t" x="1192.5" y="578">TP63</text></g>
<g id="gl4"><rect class="n" x="1115" y="607" width="35" height="12"/><text class="t" x="1132.5" y="616">miR-221</text></g>
<g id="gl5"><rect class="n" x="1175" y="607" width="35" height="12"/><text class="t" x="1192.5" y="616">p27</text></g>
<g id="gl6"><rect class="n" x="1115" y="665" width="35" height="12"/><text class="t" x="1132.5" y="674">miR-26a</text></g>
<g id="gl7"><rect class="n" x="1175" y="665" width="35" height="12"/><text class="t" x="1192.5" y="674">PTEN</text></g>
<g id="gl8"><rect class="n" x="1115" y="684" width="35" height="12"/><text class="t" x="1132.5" y="693">miR-21</text></g>
<g id="gl9"><rect class="n" x="1175" y="684" width="35" height="12"/><text class="t" x="1192.5" y="693">PDCD4</text></g>
<g id="gl-glioma"><rect class="r" x="1130" y="709" width="77" height="19" rx="9"/><text class="l" x="1168.5" y="721">Glioma</text></g>
<g id="gl10"><rect class="n" x="1115" y="769" width="35" height="12"/><text class="t" x="1132.5" y="778">miR-21</text></g>
<g id="gl11"><rect class="n" x="1175" y="759" width="35" height="12"/><text class="t" x="1192.5" y="768">RECK</text></g>
<g id="gl12"><rect class="n" x="1175" y="781" width="35" height="12"/><text class="t" x="1192.5" y="790">TIMP3</text></g>
<g id="gl13"><rect class="n" x="1260" y="542" width="35" height="12"/><text class="t" x="1277.5" y="551">miR-124</text></g>
<g id="gl14"><rect class="n" x="1260" y="562" width="35" height="12"/><text class="t" x="1277.5" y="571">miR-137</text></g>
<g id="gl15"><rect class="n" x="1260" y="583" width="35" height="12"/><text class="t" x="1277.5" y="592">miR-34a</text></g>
<g id="gl16"><rect class="n" x="1319" y="562" width="35" height="12"/><text class="t" x="1336.5" y="571">Cdk6</text></g>
<g id="gl17"><rect class="n" x="1260" y="603" width="35" height="12"/><text class="t" x="1277.5" y="612">miR-128</text></g>
<g id="gl18"><rect class="n" x="1319" y="603" width="35" height="12"/><text class="t" x="1336.5" y="612">E2F3a</text></g>
<g id="gl19"><rect class="n" x="1260" y="624" width="35" height="12"/><text class="t" x="1277.5" y="633">miR-15</text></g>
<g id="gl20"><rect class="n" x="1319" y="624" width="35" height="12"/><text class="t" x="1336.5" y="633">cycE1</text></g>
<g id="gl21"><rect class="n" x="1260" y="667" width="35" height="12"/><text class="t" x="1277.5" y="676">miR-7</text></g>
<g id="gl22"><rect class="n" x="1319" y="659" width="35" height="12"/><text class="t" x="1336.5" y="668">EGFR</text></g>
<g id="gl23"><rect class="n" x="1319" y="680" width="35" height="12"/><text class="t" x="1336.5" y="689">IRS-2</text></g>
<g id="gl24"><rect class="n" x="1260" y="695" width="35" height="12"/><text class="t" x="1277.5" y="704">miR-326</text></g>
<g id="gl25"><rect class="n" x="1260" y="715" width="35" height="12"/><text class="t" x="1277.5" y="724">miR-34a</text></g>
<g id="gl26"><rect class="n" x="1319" y="705" width="35" height="12"/><text class="t" x="1336.5" y="714">Notch</text></g>
<g id="gl27"><rect class="n" x="1260" y="734" width="35" height="12"/><text class="t" x="1277.5" y="743">miR-128</text></g>
<g id="gl28"><rect class="n" x="1319" y="734" width="35" height="12"/><text class="t" x="1336.5" y="743">Bmi-1</text></g>
<g id="gl29"><rect class="n" x="1260" y="772" width="35" height="12"/><text class="t" x="1277.5" y="781">miR-146a</text></g>
<g id="gl30"><rect class="n" x="1319" y="772" width="35" height="12"/><text class="t" x="1336.5" y="781">MMP16</text></g>

<g id="br1"><rect class="n" x="361" y="955" width="35" height="12"/><text class="t" x="378.5" y="964">miR-200</text></g>
<g id="br2"><rect class="n" x="421" y="921" width="35" height="12"/><text class="t" x="438.5" y="930">Bmi-1</text></g>
<g id="br3"><rect class="n" x="421" y="941" width="35" height="12"/><text class="t" x="438.5" y="950">ZEB1</text></g>
<g id="br4"><rect class="n" x="421" y="961" width="35" height="12"/><text class="t" x="438.5" y="970">ZEB2</text></g>
<g id="br5"><rect class="n" x="421" y="982" width="35" height="12"/><text class="t" x="438.5" y="991">FOG2</text></g>
<g id="br6"><rect class="n" x="361" y="1015" width="35" height="12"/><text class="t" x="378.5" y="1024">Let-7</text></g>
<g id="br7"><rect class="n" x="421" y="1006" width="35" height="12"/><text class="t" x="438.5" y="1015">RAS</text></g>
<g id="br8"><rect class="n" x="421" y="1026" width="35" height="12"/><text class="t" x="438.5" y="1035">HMGA2</text></g>
<g id="br9"><rect class="n" x="216" y="1066" width="35" height="12"/><text class="t" x="233.5" y="1075">miR-181</text></g>
<g id="br10"><rect class="n" x="276" y="1066" width="35" height="12"/><text class="t" x="293.5" y="1075">ATM</text></g>
<g id="br11"><rect class="n" x="216" y="1090" width="35" height="12"/><text class="t" x="233.5" y="1099">miR-155</text></g>
<g id="br12"><rect class="n si" x="276" y="1090" width="35" height="12"/><text class="t" x="293.5" y="1099">SOCS1</text></g>
<g id="br13"><rect class="n" x="361" y="1076" width="35" height="12"/><text class="t" x="378.5" y="1085">miR-30e</text></g>
<g id="br14"><rect class="n sf" x="421" y="1066" width="35" height="12"/><text class="t" x="438.5" y="1075">ITGB3</text></g>
<g id="br15"><rect class="n" x="421" y="1085" width="35" height="12"/><text class="t" x="438.5" y="1094">UBC9</text></g>
<g id="br16"><rect class="n" x="361" y="1099" width="35" height="12"/><text class="t" x="378.5" y="1108">miR-200</text></g>
<g id="br17"><rect class="n" x="361" y="1117" width="35" height="12"/><text class="t" x="378.5" y="1126">Let-7</text></g>
<g id="br18"><rect class="n" x="216" y="1154" width="35" height="12"/><text class="t" x="233.5" y="1163">miR-10b</text></g>
<g id="br19"><rect class="n" x="276" y="1154" width="35" height="12"/><text class="t" x="293.5" y="1163">HOXD10</text></g>
<g id="br20"><rect class="n" x="216" y="1178" width="35" height="12"/><text class="t" x="233.5" y="1187">miR-373</text></g>
<g id="br21"><rect class="n" x="216" y="1197" width="35" height="12"/><text class="t" x="233.5" y="1206">miR-520</text></g>
<g id="br22"><rect class="n" x="276" y="1186" width="35" height="12"/><text class="t" x="293.5" y="1195">CD44</text></g>
<g id="br23"><rect class="n" x="216" y="1222" width="35" height="12"/><text class="t" x="233.5" y="1231">miR-103</text></g>
<g id="br24"><rect class="n" x="216" y="1241" width="35" height="12"/><text class="t" x="233.5" y="1250">miR-107</text></g>
<g id="br25"><rect class="n sc" x="276" y="1230" width="35" height="12"/><text class="t" x="293.5" y="1239">Dicer</text></g>
<g id="br26"><rect class="n" x="216" y="1281" width="35" height="12"/><text class="t" x="233.5" y="1290">miR-21</text></g>
<g id="br27"><rect class="n" x="276" y="1262" width="35" height="12"/><text class="t" x="293.5" y="1271">TPM1</text></g>
<g id="br28"><rect class="n" x="276" y="1281" width="35" height="12"/><text class="t" x="293.5" y="1290">PDCD4</text></g>
<g id="br29"><rect class="n" x="276" y="1300" width="35" height="12"/><text class="t" x="293.5" y="1309">maspin</text></g>
<g id="br30"><rect class="n" x="216" y="1357" width="35" height="12"/><text class="t" x="233.5" y="1366">miR-31</text></g>
<g id="br31"><rect class="n sb" x="276" y="1327" width="35" height="12"/><text class="t" x="293.5" y="1336">Fzd3</text></g>
<g id="br32"><rect class="n se" x="276" y="1346" width="35" height="12"/><text class="t" x="293.5" y="1355">ITGA5</text></g>
<g id="br33"><rect class="n sb" x="276" y="1364" width="35" height="12"/><text class="t" x="293.5" y="1373">RDX</text></g>
<g id="br34"><rect class="n sc" x="276" y="1383" width="35" height="12"/><text class="t" x="293.5" y="1392">RhoA</text></g>
<g id="br35"><rect class="n" x="216" y="1410" width="35" height="12"/><text class="t" x="233.5" y="1419">miR-193b</text></g>
<g id="br36"><rect class="n sh" x="276" y="1410" width="35" height="12"/><text class="t" x="293.5" y="1419">uPA</text></g>
<g id="br37"><rect class="n" x="361" y="1154" width="35" height="12"/><text class="t" x="378.5" y="1163">miR-335</text></g>
<g id="br38"><rect class="n" x="421" y="1145" width="35" height="12"/><text class="t" x="438.5" y="1154">SOX4</text></g>
<g id="br39"><rect class="n sf" x="421" y="1165" width="35" height="12"/><text class="t" x="438.5" y="1174">TNC</text></g>
<g id="br40"><rect class="n" x="361" y="1181" width="35" height="12"/><text class="t" x="378.5" y="1190">miR-126</text></g>
<g id="br41"><rect class="n" x="361" y="1201" width="35" height="12"/><text class="t" x="378.5" y="1210">miR-206</text></g>
<g id="br42"><rect class="n" x="361" y="1222" width="35" height="12"/><text class="t" x="378.5" y="1231">miR-200</text></g>
<g id="br43"><rect class="n" x="361" y="1241" width="35" height="12"/><text class="t" x="378.5" y="1250">Let-7</text></g>
<g id="br44"><rect class="n" x="216" y="1448" width="35" height="12"/><text class="t" x="233.5" y="1457">miR-221</text></g>
<g id="br45"><rect class="n" x="216" y="1469" width="35" height="12"/><text class="t" x="233.5" y="1478">miR-222</text></g>
<g id="br46"><rect class="n" x="276" y="1458" width="35" height="12"/><text class="t" x="293.5" y="1467">p27</text></g>
<g id="br47"><rect class="n" x="216" y="1490" width="35" height="12"/><text class="t" x="233.5" y="1499">miR-129b</text></g>
<g id="br48"><rect class="n" x="276" y="1490" width="35" height="12"/><text class="t" x="293.5" y="1499">BAK1</text></g>
<g id="br49"><rect class="n" x="361" y="1444" width="35" height="12"/><text class="t" x="378.5" y="1453">miR-451</text></g>
<g id="br50"><rect class="n" x="421" y="1444" width="35" height="12"/><text class="t" x="438.5" y="1453">MDR1</text></g>
<g id="br51"><rect class="n" x="361" y="1470" width="35" height="12"/><text class="t" x="378.5" y="1479">miR-345</text></g>
<g id="br52"><rect class="n" x="361" y="1491" width="35" height="12"/><text class="t" x="378.5" y="1500">miR-7</text></g>
<g id="br53"><rect class="n" x="421" y="1481" width="35" height="12"/><text class="t" x="438.5" y="1490">MRP1</text></g>

<g id="ov1"><rect class="n" x="662" y="949" width="35" height="12"/><text class="t" x="679.5" y="958">Let-7</text></g>
<g id="ov2"><rect class="n" x="721" y="931" width="35" height="12"/><text class="t" x="738.5" y="940">HMGA2</text></g>
<g id="ov3"><rect class="n" x="721" y="949" width="35" height="12"/><text class="t" x="738.5" y="958">IMP1</text></g>
<g id="ov4"><rect class="n" x="721" y="967" width="35" height="12"/><text class="t" x="738.5" y="976">Mlin-41</text></g>
<g id="ov5"><rect class="n" x="662" y="993" width="35" height="12"/><text class="t" x="679.5" y="1002">miR-200</text></g>
<g id="ov6"><rect class="n" x="721" y="986" width="35" height="12"/><text class="t" x="738.5" y="995">ZEB1</text></g>
<g id="ov7"><rect class="n" x="721" y="1004" width="35" height="12"/><text class="t" x="738.5" y="1013">ZEB2</text></g>
<g id="ov8"><rect class="n" x="517" y="1080" width="35" height="12"/><text class="t" x="534.5" y="1089">miR-21</text></g>
<g id="ov9"><rect class="n" x="517" y="1104" width="35" height="12"/><text class="t" x="534.5" y="1113">miR-214</text></g>
<g id="ov10"><rect class="n" x="576" y="1092" width="35" height="12"/><text class="t" x="593.5" y="1101">PTEN</text></g>
<g id="ov11"><rect class="n" x="517" y="1128" width="35" height="12"/><text class="t" x="534.5" y="1137">Let-7</text></g>
<g id="ov12"><rect class="n" x="576" y="1128" width="35" height="12"/><text class="t" x="593.5" y="1137">HMGA2</text></g>
<g id="ov13"><rect class="n" x="517" y="1152" width="35" height="12"/><text class="t" x="534.5" y="1161">miR-200</text></g>
<g id="ov14"><rect class="n" x="576" y="1152" width="35" height="12"/><text class="t" x="593.5" y="1161">ZEB1</text></g>
<g id="ov15"><rect class="n" x="517" y="1176" width="35" height="12"/><text class="t" x="534.5" y="1185">miR-146a</text></g>
<g id="ov16"><rect class="n" x="576" y="1176" width="35" height="12"/><text class="t" x="593.5" y="1185">BRCA1</text></g>
<g id="ov17"><rect class="n" x="517" y="1200" width="35" height="12"/><text class="t" x="534.5" y="1209">miR-106b</text></g>
<g id="ov18"><rect class="n" x="517" y="1224" width="35" height="12"/><text class="t" x="534.5" y="1233">miR-20a</text></g>
<g id="ov19"><rect class="n" x="576" y="1212" width="35" height="12"/><text class="t" x="593.5" y="1221">p21</text></g>
<g id="ov20"><rect class="n" x="662" y="1079" width="35" height="12"/><text class="t" x="679.5" y="1088">miR-143</text></g>
<g id="ov21"><rect class="n" x="721" y="1079" width="35" height="12"/><text class="t" x="738.5" y="1088">K-Ras</text></g>
<g id="ov22"><rect class="n" x="662" y="1099" width="35" height="12"/><text class="t" x="679.5" y="1108">miR-34a</text></g>
<g id="ov23"><rect class="n" x="662" y="1124" width="35" height="12"/><text class="t" x="679.5" y="1133">miR-34b</text></g>
<g id="ov24"><rect class="n" x="721" y="1105" width="35" height="12"/><text class="t" x="738.5" y="1114">c-Met</text></g>
<g id="ov25"><rect class="n" x="721" y="1124" width="35" height="12"/><text class="t" x="738.5" y="1133">Notch</text></g>
<g id="ov26"><rect class="n" x="721" y="1143" width="35" height="12"/><text class="t" x="738.5" y="1152">Cdk6</text></g>
<g id="ov27"><rect class="n" x="662" y="1151" width="35" height="12"/><text class="t" x="679.5" y="1160">miR-34c</text></g>
<g id="ov28"><rect class="n" x="662" y="1177" width="35" height="12"/><text class="t" x="679.5" y="1186">miR-125</text></g>
<g id="ov29"><rect class="n" x="721" y="1177" width="35" height="12"/><text class="t" x="738.5" y="1186">ERBB2</text></g>
<g id="ov30"><rect class="n" x="517" y="1285" width="35" height="12"/><text class="t" x="534.5" y="1294">miR-210</text></g>
<g id="ov31"><rect class="n" x="576" y="1285" width="35" height="12"/><text class="t" x="593.5" y="1294">E2F3</text></g>
<g id="ov32"><rect class="n" x="576" y="1305" width="35" height="12"/><text class="t" x="593.5" y="1314">Ephin-A3</text></g>
<g id="ov33"><rect class="n" x="517" y="1332" width="35" height="12"/><text class="t" x="534.5" y="1341">miR-19a</text></g>
<g id="ov34"><rect class="n se" x="576" y="1332" width="35" height="12"/><text class="t" x="593.5" y="1341">TSP1</text></g>
<g id="ov35"><rect class="n" x="662" y="1285" width="35" height="12"/><text class="t" x="679.5" y="1294">miR-9</text></g>
<g id="ov36"><rect class="n" x="721" y="1285" width="35" height="12"/><text class="t" x="738.5" y="1294">NFKB1</text></g>
<g id="ov37"><rect class="n" x="662" y="1320" width="35" height="12"/><text class="t" x="679.5" y="1329">miR-199a</text></g>
<g id="ov38"><rect class="n si" x="721" y="1308" width="35" height="12"/><text class="t" x="738.5" y="1317">IKKβ</text></g>
<g id="ov39"><rect class="n" x="721" y="1332" width="35" height="12"/><text class="t" x="738.5" y="1341">Cox-2</text></g>
<g id="ov40"><rect class="n" x="662" y="1389" width="35" height="12"/><text class="t" x="679.5" y="1398">miR-200</text></g>
<g id="ov41"><rect class="n" x="721" y="1382" width="35" height="12"/><text class="t" x="738.5" y="1391">ZEB1</text></g>
<g id="ov42"><rect class="n" x="721" y="1398" width="35" height="12"/><text class="t" x="738.5" y="1407">ZEB2</text></g>
<g id="ov43"><rect class="n" x="517" y="1452" width="35" height="12"/><text class="t" x="534.5" y="1461">miR-200</text></g>
<g id="ov44"><rect class="n" x="576" y="1444" width="35" height="12"/><text class="t" x="593.5" y="1453">ZEB1</text></g>
<g id="ov45"><rect class="n" x="576" y="1460" width="35" height="12"/><text class="t" x="593.5" y="1469">ZEB2</text></g>

<g id="bl1"><rect class="n" x="818" y="1016" width="35" height="12"/><text class="t" x="835.5" y="1025">miR-10</text></g>
<g id="bl2"><rect class="n" x="878" y="976" width="35" height="12"/><text class="t" x="895.5" y="985">RASSF1</text></g>
<g id="bl3"><rect class="n sj" x="878" y="996" width="35" height="12"/><text class="t" x="895.5" y="1005">MAPK1</text></g>
<g id="bl4"><rect class="n" x="878" y="1016" width="35" height="12"/><text class="t" x="895.5" y="1025">PKC</text></g>
<g id="bl5"><rect class="n" x="878" y="1036" width="35" height="12"/><text class="t" x="895.5" y="1045">GRB2</text></g>
<g id="bl6"><rect class="n sa" x="878" y="1056" width="35" height="12"/><text class="t" x="895.5" y="1065">FGFR3</text></g>
<g id="bl7"><rect class="n" x="818" y="1124" width="35" height="12"/><text class="t" x="835.5" y="1133">miR-23</text></g>
<g id="bl8"><rect class="n" x="878" y="1113" width="35" height="12"/><text class="t" x="895.5" y="1122">MAPK1</text></g>
<g id="bl9"><rect class="n" x="878" y="1134" width="35" height="12"/><text class="t" x="895.5" y="1143">FGFR3</text></g>
<g id="bl10"><rect class="n" x="818" y="1190" width="35" height="12"/><text class="t" x="835.5" y="1199">miR-103</text></g>
<g id="bl11"><rect class="n" x="878" y="1171" width="35" height="12"/><text class="t" x="895.5" y="1180">MSK1</text></g>
<g id="bl12"><rect class="n" x="878" y="1190" width="35" height="12"/><text class="t" x="895.5" y="1199">PKC</text></g>
<g id="bl13"><rect class="n" x="878" y="1210" width="35" height="12"/><text class="t" x="895.5" y="1219">FGFR3</text></g>
<g id="bl-bc"><rect class="r" x="825" y="1276" width="77" height="19" rx="9"/><text class="l" x="863.5" y="1288">Bladder cancer</text></g>
<g id="bl14"><rect class="n" x="963" y="953" width="35" height="12"/><text class="t" x="980.5" y="962">miR-99a</text></g>
<g id="bl15"><rect class="n" x="963" y="970" width="35" height="12"/><text class="t" x="980.5" y="979">miR-100</text></g>
<g id="bl16"><rect class="n" x="963" y="993" width="35" height="12"/><text class="t" x="980.5" y="1002">miR-29</text></g>
<g id="bl17"><rect class="n" x="963" y="1021" width="35" height="12"/><text class="t" x="980.5" y="1030">miR-101</text></g>
<g id="bl18"><rect class="n" x="963" y="1047" width="35" height="12"/><text class="t" x="980.5" y="1056">miR-125</text></g>
<g id="bl19"><rect class="n" x="963" y="1069" width="35" height="12"/><text class="t" x="980.5" y="1078">miR-145</text></g>
<g id="bl20"><rect class="n" x="963" y="1109" width="35" height="12"/><text class="t" x="980.5" y="1118">miR-195</text></g>
<g id="bl21"><rect class="n" x="963" y="1134" width="35" height="12"/><text class="t" x="980.5" y="1143">miR-7</text></g>
<g id="bl22"><rect class="n" x="963" y="1157" width="35" height="12"/><text class="t" x="980.5" y="1166">miR-30</text></g>
<g id="bl23"><rect class="n" x="963" y="1179" width="35" height="12"/><text class="t" x="980.5" y="1188">miR-129</text></g>
<g id="bl24"><rect class="n" x="963" y="1210" width="35" height="12"/><text class="t" x="980.5" y="1219">miR-143</text></g>
<g id="bl25"><rect class="n" x="1024" y="962" width="35" height="12"/><text class="t" x="1041.5" y="971">PDGFRA</text></g>
<g id="bl26"><rect class="n" x="1024" y="993" width="35" height="12"/><text class="t" x="1041.5" y="1002">PLCG</text></g>
<g id="bl27"><rect class="n" x="1024" y="1021" width="35" height="12"/><text class="t" x="1041.5" y="1030">FGFR3</text></g>
<g id="bl28"><rect class="n" x="1024" y="1040" width="35" height="12"/><text class="t" x="1041.5" y="1049">RAF1</text></g>
<g id="bl29"><rect class="n" x="1024" y="1059" width="35" height="12"/><text class="t" x="1041.5" y="1068">KRAS</text></g>
<g id="bl30"><rect class="n" x="1024" y="1077" width="35" height="12"/><text class="t" x="1041.5" y="1086">PKC</text></g>
<g id="bl31"><rect class="n sd" x="1024" y="1096" width="35" height="12"/><text class="t" x="1041.5" y="1105">MAP2K</text></g>
<g id="bl32"><rect class="n" x="1024" y="1114" width="35" height="12"/><text class="t" x="1041.5" y="1123">MAPK1</text></g>
<g id="bl33"><rect class="n" x="1024" y="1132" width="35" height="12"/><text class="t" x="1041.5" y="1141">SOS1/2</text></g>
<g id="bl34"><rect class="n" x="1024" y="1151" width="35" height="12"/><text class="t" x="1041.5" y="1160">GRB2</text></g>
<g id="bl35"><rect class="n" x="1024" y="1171" width="35" height="12"/><text class="t" x="1041.5" y="1180">SHC1</text></g>
<g id="bl36"><rect class="n" x="1024" y="1190" width="35" height="12"/><text class="t" x="1041.5" y="1199">PLCG</text></g>
<g id="bl37"><rect class="n" x="1024" y="1209" width="35" height="12"/><text class="t" x="1041.5" y="1218">PDGFA</text></g>
<g id="bl38"><rect class="n" x="1024" y="1229" width="35" height="12"/><text class="t" x="1041.5" y="1238">SHC4</text></g>
<g id="bl39"><rect class="n se" x="1024" y="1248" width="35" height="12"/><text class="t" x="1041.5" y="1257">PDGFB</text></g>
<g id="bl40"><rect class="n" x="1024" y="1266" width="35" height="12"/><text class="t" x="1041.5" y="1275">PDGFRB</text></g>
<g id="bl41"><rect class="n" x="1024" y="1284" width="35" height="12"/><text class="t" x="1041.5" y="1293">KRAS</text></g>
<g id="bl42"><rect class="n" x="1024" y="1303" width="35" height="12"/><text class="t" x="1041.5" y="1312">RAF1</text></g>
<g id="bl43"><rect class="n" x="818" y="1370" width="35" height="12"/><text class="t" x="835.5" y="1379">miR-21</text></g>
<g id="bl44"><rect class="n" x="878" y="1370" width="35" height="12"/><text class="t" x="895.5" y="1379">ATM</text></g>
<g id="bl45"><rect class="n" x="818" y="1395" width="35" height="12"/><text class="t" x="835.5" y="1404">miR-223</text></g>
<g id="bl46"><rect class="n" x="878" y="1395" width="35" height="12"/><text class="t" x="895.5" y="1404">p53</text></g>
<g id="bl47"><rect class="n" x="818" y="1449" width="35" height="12"/><text class="t" x="835.5" y="1458">miR-10</text></g>
<g id="bl48"><rect class="n" x="878" y="1440" width="35" height="12"/><text class="t" x="895.5" y="1449">ATM</text></g>
<g id="bl49"><rect class="n sd" x="878" y="1458" width="35" height="12"/><text class="t" x="895.5" y="1467">MDM2/4</text></g>
<g id="bl62"><rect class="n" x="818" y="1493" width="35" height="12"/><text class="t" x="835.5" y="1502">miR-221</text></g>
<g id="bl63"><rect class="n" x="878" y="1483" width="35" height="12"/><text class="t" x="895.5" y="1492">ATM</text></g>
<g id="bl64"><rect class="n" x="878" y="1503" width="35" height="12"/><text class="t" x="895.5" y="1512">MDM2</text></g>
<g id="bl50"><rect class="n" x="963" y="1363" width="35" height="12"/><text class="t" x="980.5" y="1372">miR-30</text></g>
<g id="bl51"><rect class="n" x="1024" y="1353" width="35" height="12"/><text class="t" x="1041.5" y="1362">ATM</text></g>
<g id="bl52"><rect class="n se" x="1024" y="1373" width="35" height="12"/><text class="t" x="1041.5" y="1382">p53</text></g>
<g id="bl53"><rect class="n" x="963" y="1403" width="35" height="12"/><text class="t" x="980.5" y="1412">miR-125</text></g>
<g id="bl54"><rect class="n" x="1024" y="1394" width="35" height="12"/><text class="t" x="1041.5" y="1403">CDKN2A</text></g>
<g id="bl55"><rect class="n" x="1024" y="1414" width="35" height="12"/><text class="t" x="1041.5" y="1423">p53</text></g>
<g id="bl56"><rect class="n" x="963" y="1449" width="35" height="12"/><text class="t" x="980.5" y="1458">miR-143</text></g>
<g id="bl57"><rect class="n" x="1024" y="1440" width="35" height="12"/><text class="t" x="1041.5" y="1449">ATM</text></g>
<g id="bl58"><rect class="n" x="1024" y="1460" width="35" height="12"/><text class="t" x="1041.5" y="1469">p53</text></g>
<g id="bl59"><rect class="n" x="963" y="1495" width="35" height="12"/><text class="t" x="980.5" y="1504">miR-129</text></g>
<g id="bl60"><rect class="n sd" x="1024" y="1485" width="35" height="12"/><text class="t" x="1041.5" y="1494">MDM4</text></g>
<g id="bl61"><rect class="n" x="1024" y="1506" width="35" height="12"/><text class="t" x="1041.5" y="1515">ATM</text></g>

<g id="pr1"><rect class="n" x="1259" y="950" width="35" height="12"/><text class="t" x="1276.5" y="959">miR-449a</text></g>
<g id="pr2"><rect class="n sj" x="1319" y="950" width="35" height="12"/><text class="t" x="1336.5" y="959">HDAC1</text></g>
<g id="pr3"><rect class="n" x="1259" y="969" width="35" height="12"/><text class="t" x="1276.5" y="978">miR-101</text></g>
<g id="pr4"><rect class="n sb" x="1319" y="969" width="35" height="12"/><text class="t" x="1336.5" y="978">EZH2</text></g>
<g id="pr5"><rect class="n" x="1259" y="988" width="35" height="12"/><text class="t" x="1276.5" y="997">miR-23</text></g>
<g id="pr6"><rect class="n se" x="1319" y="988" width="35" height="12"/><text class="t" x="1336.5" y="997">GLS</text></g>
<g id="pr7"><rect class="n" x="1259" y="1018" width="35" height="12"/><text class="t" x="1276.5" y="1027">miR-34a</text></g>
<g id="pr8"><rect class="n" x="1319" y="1009" width="35" height="12"/><text class="t" x="1336.5" y="1018">CDK6</text></g>
<g id="pr9"><rect class="n" x="1319" y="1030" width="35" height="12"/><text class="t" x="1336.5" y="1039">SIRT1</text></g>
<g id="pr10"><rect class="n" x="1259" y="1075" width="35" height="12"/><text class="t" x="1276.5" y="1084">miR-15a</text></g>
<g id="pr11"><rect class="n" x="1319" y="1056" width="35" height="12"/><text class="t" x="1336.5" y="1065">Bcl2</text></g>
<g id="pr12"><rect class="n sd" x="1319" y="1075" width="35" height="12"/><text class="t" x="1336.5" y="1084">CCND1</text></g>
<g id="pr13"><rect class="n" x="1319" y="1094" width="35" height="12"/><text class="t" x="1336.5" y="1103">WNT3A</text></g>
<g id="pr14"><rect class="n" x="1259" y="1129" width="35" height="12"/><text class="t" x="1276.5" y="1138">miR-330</text></g>
<g id="pr15"><rect class="n" x="1319" y="1129" width="35" height="12"/><text class="t" x="1336.5" y="1138">E2F1</text></g>
<g id="pr16"><rect class="n" x="1259" y="1174" width="35" height="12"/><text class="t" x="1276.5" y="1183">miR-331</text></g>
<g id="pr17"><rect class="n si" x="1319" y="1155" width="35" height="12"/><text class="t" x="1336.5" y="1164">CDCA5</text></g>
<g id="pr18"><rect class="n sa" x="1319" y="1174" width="35" height="12"/><text class="t" x="1336.5" y="1183">KIF23</text></g>
<g id="pr19"><rect class="n" x="1319" y="1193" width="35" height="12"/><text class="t" x="1336.5" y="1202">ERBB2</text></g>
<g id="pr20"><rect class="n" x="1114" y="1014" width="35" height="12"/><text class="t" x="1131.5" y="1023">miR-20a</text></g>
<g id="pr21"><rect class="n" x="1174" y="995" width="35" height="12"/><text class="t" x="1191.5" y="1004">E2F1</text></g>
<g id="pr22"><rect class="n sd" x="1174" y="1014" width="35" height="12"/><text class="t" x="1191.5" y="1023">E2F2</text></g>
<g id="pr23"><rect class="n" x="1174" y="1032" width="35" height="12"/><text class="t" x="1191.5" y="1041">E2F3</text></g>
<g id="pr24"><rect class="n" x="1114" y="1070" width="35" height="12"/><text class="t" x="1131.5" y="1079">miR-106b</text></g>
<g id="pr25"><rect class="n sg" x="1174" y="1062" width="35" height="12"/><text class="t" x="1191.5" y="1071">p21</text></g>
<g id="pr26"><rect class="n" x="1174" y="1079" width="35" height="12"/><text class="t" x="1191.5" y="1088">E2F1</text></g>
<g id="pr27"><rect class="n" x="1114" y="1100" width="35" height="12"/><text class="t" x="1131.5" y="1109">miR-221</text></g>
<g id="pr28"><rect class="n" x="1114" y="1120" width="35" height="12"/><text class="t" x="1131.5" y="1129">miR-222</text></g>
<g id="pr29"><rect class="n" x="1174" y="1110" width="35" height="12"/><text class="t" x="1191.5" y="1119">p27</text></g>
<g id="pr30"><rect class="n" x="1114" y="1140" width="35" height="12"/><text class="t" x="1131.5" y="1149">miR-32</text></g>
<g id="pr31"><rect class="n" x="1174" y="1140" width="35" height="12"/><text class="t" x="1191.5" y="1149">Bim1</text></g>
<g id="pr-pc"><rect class="r" x="1130" y="1276" width="77" height="19" rx="9"/><text class="l" x="1168.5" y="1288">Prostate cancer</text></g>
<g id="pr32"><rect class="n" x="1259" y="1267" width="35" height="12"/><text class="t" x="1276.5" y="1276">miR-373</text></g>
<g id="pr33"><rect class="n" x="1259" y="1284" width="35" height="12"/><text class="t" x="1276.5" y="1293">miR-520c</text></g>
<g id="pr34"><rect class="n sg" x="1319" y="1277" width="35" height="12"/><text class="t" x="1336.5" y="1286">CD44</text></g>
<g id="pr35"><rect class="n" x="1259" y="1303" width="35" height="12"/><text class="t" x="1276.5" y="1312">miR-146a</text></g>
<g id="pr36"><rect class="n" x="1319" y="1303" width="35" height="12"/><text class="t" x="1336.5" y="1312">ROCK1</text></g>
<g id="pr37"><rect class="n" x="1259" y="1343" width="35" height="12"/><text class="t" x="1276.5" y="1352">miR-205</text></g>
<g id="pr38"><rect class="n" x="1319" y="1324" width="35" height="12"/><text class="t" x="1336.5" y="1333">ZEB2</text></g>
<g id="pr39"><rect class="n" x="1319" y="1343" width="35" height="12"/><text class="t" x="1336.5" y="1352">ERBB3</text></g>
<g id="pr40"><rect class="n" x="1319" y="1362" width="35" height="12"/><text class="t" x="1336.5" y="1371">PKCε</text></g>
<g id="pr41"><rect class="n" x="1259" y="1383" width="35" height="12"/><text class="t" x="1276.5" y="1392">miR-126</text></g>
<g id="pr42"><rect class="n" x="1319" y="1383" width="35" height="12"/><text class="t" x="1336.5" y="1392">Prostein</text></g>
<g id="pr43"><rect class="n" x="1259" y="1402" width="35" height="12"/><text class="t" x="1276.5" y="1411">miR-17</text></g>
<g id="pr44"><rect class="n" x="1319" y="1402" width="35" height="12"/><text class="t" x="1336.5" y="1411">Vimentin</text></g>
<g id="pr45"><rect class="n" x="1259" y="1463" width="35" height="12"/><text class="t" x="1276.5" y="1472">miR-143</text></g>
<g id="pr46"><rect class="n" x="1319" y="1463" width="35" height="12"/><text class="t" x="1336.5" y="1472">Erk5</text></g>
<g id="pr47"><rect class="n" x="1114" y="1349" width="35" height="12"/><text class="t" x="1131.5" y="1358">miR-21</text></g>
<g id="pr48"><rect class="n" x="1174" y="1338" width="35" height="12"/><text class="t" x="1191.5" y="1347">MARCKS</text></g>
<g id="pr49"><rect class="n" x="1174" y="1357" width="35" height="12"/><text class="t" x="1191.5" y="1366">BMPRII</text></g>
<g id="pr50"><rect class="n" x="1114" y="1462" width="35" height="12"/><text class="t" x="1131.5" y="1471">miR-125b</text></g>
<g id="pr51"><rect class="n" x="1174" y="1462" width="35" height="12"/><text class="t" x="1191.5" y="1471">Bak1</text></g>
</g>
</g>
</svg>
